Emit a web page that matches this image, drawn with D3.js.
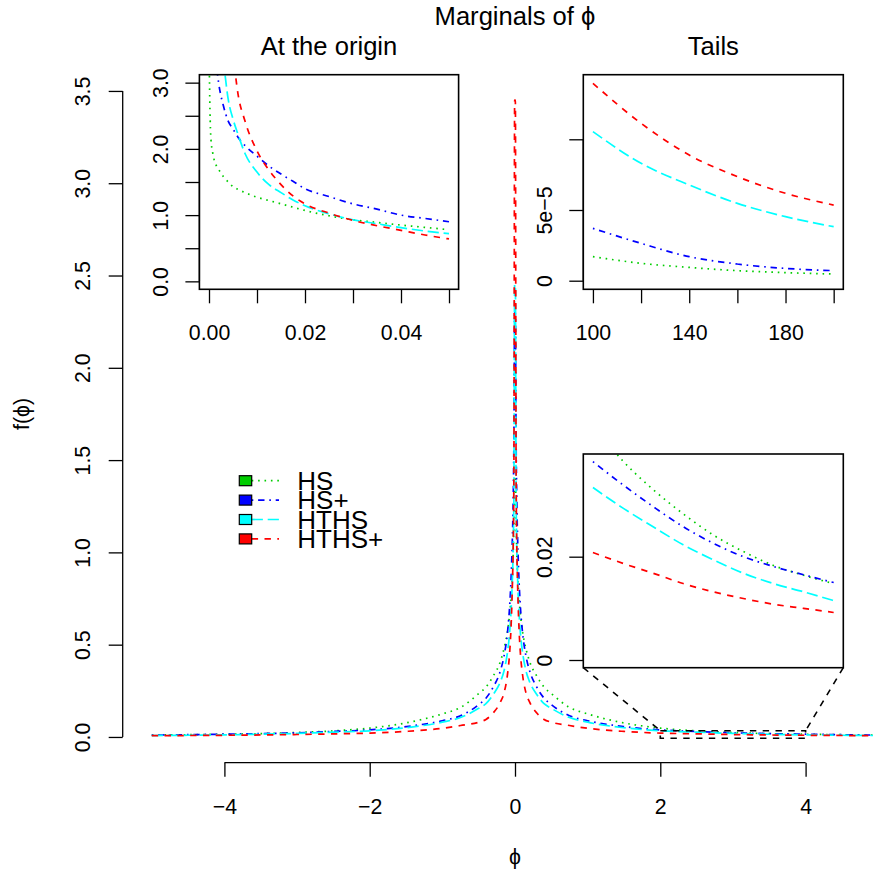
<!DOCTYPE html>
<html><head><meta charset="utf-8">
<script src="https://cdn.jsdelivr.net/npm/d3@7"></script>
<style>
body{margin:0;background:#fff}
text{font-family:"Liberation Sans",Arial,Helvetica,sans-serif;fill:#000}
</style></head>
<body><svg id="c" width="873" height="872"></svg>
<script>
// ---------- data ----------
const seriesNames = ["HS", "HS+", "HTHS", "HTHS+"];
const seriesColors = ["#00CD00", "#0000FF", "#00FFFF", "#FF0000"];

// main plot: phi grid and densities
const mainPhi = [-5,-4.5,-4,-3.5,-3,-2.5,-2,-1.5,-1,-0.75,-0.5,-0.4,-0.3,-0.2,-0.15,-0.1,-0.075,-0.05,-0.035,-0.025,-0.015,-0.005,
                 0.005,0.015,0.025,0.035,0.05,0.075,0.1,0.15,0.2,0.3,0.4,0.5,0.75,1,1.5,2,2.5,3,3.5,4,4.5,5];
const mainHS    = [0.0102,0.0122,0.0148,0.0181,0.024,0.033,0.048,0.076,0.125,0.16,0.235,0.27,0.33,0.41,0.48,0.58,0.66,0.78,0.89,0.99,1.17,1.43,
                   1.43,1.17,0.99,0.89,0.78,0.66,0.58,0.48,0.41,0.33,0.27,0.235,0.16,0.125,0.076,0.048,0.033,0.024,0.0181,0.0148,0.0122,0.0102];
const mainHSp   = [0.0100,0.0123,0.0150,0.0181,0.0226,0.0297,0.0384,0.056,0.088,0.115,0.175,0.21,0.27,0.36,0.44,0.58,0.70,0.90,1.09,1.28,1.62,2.30,
                   2.30,1.62,1.28,1.09,0.90,0.70,0.58,0.44,0.36,0.27,0.21,0.175,0.115,0.088,0.056,0.0384,0.0297,0.0226,0.0181,0.0150,0.0123,0.0100];
const mainHTHS  = [0.0077,0.0093,0.0115,0.0148,0.0194,0.0258,0.0334,0.050,0.080,0.105,0.155,0.18,0.23,0.30,0.36,0.47,0.56,0.72,0.87,1.02,1.34,2.45,
                   2.45,1.34,1.02,0.87,0.72,0.56,0.47,0.36,0.30,0.23,0.18,0.155,0.105,0.080,0.050,0.0334,0.0258,0.0194,0.0148,0.0115,0.0093,0.0077];
const mainHTHSp = [0.0068,0.0079,0.0092,0.0108,0.0132,0.0168,0.0208,0.030,0.047,0.062,0.08,0.095,0.13,0.19,0.24,0.35,0.45,0.64,0.84,1.03,1.46,3.45,
                   3.45,1.46,1.03,0.84,0.64,0.45,0.35,0.24,0.19,0.13,0.095,0.08,0.062,0.047,0.030,0.0208,0.0168,0.0132,0.0108,0.0092,0.0079,0.0068];
const mainYTicks = [0,0.5,1,1.5,2,2.5,3,3.5];
const mainXTicks = [-4,-2,0,2,4];

// inset "At the origin"
const originPhi = [0.00005,0.0002,0.0004,0.0008,0.0015,0.002,0.003,0.004,0.005,0.006,0.0075,0.01,0.0125,0.015,0.0175,0.02,0.025,0.03,0.035,0.04,0.045,0.05];
const originHS    = [3.3,2.59,2.15,1.93,1.75,1.69,1.58,1.50,1.43,1.39,1.34,1.27,1.22,1.17,1.12,1.07,0.99,0.93,0.89,0.85,0.815,0.78];
const originHSp   = [null,null,null,null,3.3,3.0,2.65,2.42,2.30,2.18,2.05,1.89,1.74,1.62,1.51,1.40,1.28,1.17,1.09,1.00,0.95,0.90];
const originHTHS  = [null,null,null,null,null,null,3.35,2.75,2.45,2.23,1.93,1.65,1.46,1.34,1.23,1.14,1.02,0.93,0.87,0.81,0.76,0.72];
const originHTHSp = [null,null,null,null,null,null,null,null,3.45,2.85,2.42,1.97,1.68,1.46,1.29,1.17,1.03,0.92,0.84,0.77,0.70,0.64];
const originXTicks = [0,0.01,0.02,0.03,0.04,0.05];
const originXLabels = ["0.00","","0.02","","0.04",""];
const originYTicks = [0,0.5,1,1.5,2,2.5,3];
const originYLabels = ["0.0","","1.0","","2.0","","3.0"];

// inset "Tails"
const tailPhi = [100,120,140,160,180,200];
const tailHS    = [1.70e-5,1.23e-5,9.4e-6,7.1e-6,5.7e-6,4.7e-6];
const tailHSp   = [3.70e-5,2.64e-5,1.70e-5,1.18e-5,8.7e-6,7.1e-6];
const tailHTHS  = [1.054e-4,8.3e-5,6.77e-5,5.47e-5,4.53e-5,3.82e-5];
const tailHTHSp = [1.396e-4,1.113e-4,8.89e-5,7.36e-5,6.18e-5,5.35e-5];
const tailXTicks = [100,120,140,160,180,200];
const tailXLabels = ["100","","140","","180",""];
const tailYTicks = [0,5e-5,1e-4];
const tailYLabels = ["0","5e\u22125",""];

// inset zoom on [2,4]
const zoomPhi = [2,2.25,2.5,2.75,3,3.25,3.5,3.75,4];
const zoomHS    = [0.0455,0.0385,0.0330,0.0283,0.0242,0.0210,0.0183,0.0164,0.0148];
const zoomHSp   = [0.0384,0.0339,0.0297,0.0258,0.0226,0.0200,0.0181,0.0165,0.0150];
const zoomHTHS  = [0.0334,0.0294,0.0258,0.0223,0.0194,0.0168,0.0148,0.0132,0.0115];
const zoomHTHSp = [0.0208,0.0187,0.0168,0.0148,0.0132,0.0119,0.0108,0.0100,0.0092];
const zoomYTicks = [0,0.02];
const zoomYLabels = ["0","0.02"];
const zoomRectX = [2,4];
const zoomRectY = [-0.007,0.034];

// ---------- styles / layout ----------
const dashArr = ["1.6,4.8", "1.6,4.8,6.4,4.8", "11.2,4.8", "6.4,6.4"];
const LW = 1.7;
const FS = 21.3;

const svg = d3.select("#c");
const W = 873, H = 872;

// main scales
const x = d3.scaleLinear().domain([-5.4,5.4]).range([122.7,907.3]);
const y = d3.scaleLinear().domain([-0.14,3.64]).range([762.8,65.1]);

function drawLines(g, xs, ys, xsc, ysc, clipId) {
  ys.forEach((vals, i) => {
    const pts = xs.map((d, j) => [d, vals[j]]);
    const line = d3.line()
      .defined(p => p[1] !== null)
      .x(p => xsc(p[0])).y(p => ysc(p[1]))
      .curve(d3.curveMonotoneX);
    const p = g.append("path").datum(pts)
      .attr("d", line)
      .attr("fill", "none")
      .attr("stroke", seriesColors[i])
      .attr("stroke-width", LW)
      .attr("stroke-dasharray", dashArr[i]);
    if (clipId) p.attr("clip-path", `url(#${clipId})`);
  });
}

// main curves
const gMain = svg.append("g");
drawLines(gMain, mainPhi, [mainHS, mainHSp, mainHTHS, mainHTHSp], x, y, null);

// main y axis
function leftAxis(g, ysc, xpos, ticks, labels, tickLen, labOff) {
  const ax = d3.axisLeft(ysc).tickValues(ticks).tickSize(tickLen).tickFormat((d, i) => labels[i]);
  const ga = g.append("g").attr("transform", `translate(${xpos},0)`).call(ax);
  ga.select(".domain").remove();
  ga.selectAll(".tick line").attr("stroke", "#000").attr("stroke-width", 1.3);
  ga.selectAll(".tick text")
    .attr("transform", "rotate(-90)")
    .attr("x", 0).attr("y", -labOff).attr("dy", 0)
    .attr("text-anchor", "middle")
    .style("font-size", FS + "px")
    .style("font-family", '"Liberation Sans",Arial,sans-serif');
  g.append("line")
    .attr("x1", xpos).attr("x2", xpos)
    .attr("y1", ysc(ticks[0])).attr("y2", ysc(ticks[ticks.length - 1]))
    .attr("stroke", "#000").attr("stroke-width", 1.3);
}
function bottomAxis(g, xsc, ypos, ticks, labels, tickLen, labOff, drawLine) {
  const ax = d3.axisBottom(xsc).tickValues(ticks).tickSize(tickLen).tickFormat((d, i) => labels[i]);
  const ga = g.append("g").attr("transform", `translate(0,${ypos})`).call(ax);
  ga.select(".domain").remove();
  ga.selectAll(".tick line").attr("stroke", "#000").attr("stroke-width", 1.3);
  ga.selectAll(".tick text")
    .attr("y", labOff).attr("dy", 0)
    .attr("text-anchor", "middle")
    .style("font-size", FS + "px")
    .style("font-family", '"Liberation Sans",Arial,sans-serif');
  if (drawLine) {
    g.append("line")
      .attr("y1", ypos).attr("y2", ypos)
      .attr("x1", xsc(ticks[0])).attr("x2", xsc(ticks[ticks.length - 1]))
      .attr("stroke", "#000").attr("stroke-width", 1.3);
  }
}

leftAxis(svg, y, 122.7, mainYTicks, mainYTicks.map(d3.format(".1f")), 14, 32.7);
bottomAxis(svg, x, 762.7, mainXTicks, mainXTicks.map(d => d < 0 ? "\u2212" + Math.abs(d) : String(d)), 14, 51.5, true);

// titles / labels
svg.append("text").attr("x", 515).attr("y", 25).attr("text-anchor", "middle")
  .style("font-size", "25.6px").text("Marginals of \u03D5");
svg.append("text").attr("transform", "translate(29,414) rotate(-90)").attr("text-anchor", "middle")
  .style("font-size", FS + "px").text("f(\u03D5)");
svg.append("text").attr("x", 515).attr("y", 864).attr("text-anchor", "middle")
  .style("font-size", FS + "px").text("\u03D5");

// zoom rectangle + connectors on main plot
const dashK = "6.4,6.4";
svg.append("rect")
  .attr("x", x(zoomRectX[0])).attr("y", y(zoomRectY[1]))
  .attr("width", x(zoomRectX[1]) - x(zoomRectX[0]))
  .attr("height", y(zoomRectY[0]) - y(zoomRectY[1]))
  .attr("fill", "none").attr("stroke", "#000").attr("stroke-width", 1.6).attr("stroke-dasharray", dashK);

// insets
const defs = svg.append("defs");
function inset(id, box, xdom, ydom) {
  const xs = d3.scaleLinear().domain(xdom).range([box.l, box.r]);
  const ys = d3.scaleLinear().domain(ydom).range([box.b, box.t]);
  defs.append("clipPath").attr("id", id).append("rect")
    .attr("x", box.l).attr("y", box.t).attr("width", box.r - box.l).attr("height", box.b - box.t);
  const g = svg.append("g");
  g.append("rect").attr("x", box.l).attr("y", box.t).attr("width", box.r - box.l).attr("height", box.b - box.t)
    .attr("fill", "#fff");
  return {g, xs, ys};
}
function frame(g, box) {
  g.append("rect").attr("x", box.l).attr("y", box.t).attr("width", box.r - box.l).attr("height", box.b - box.t)
    .attr("fill", "none").attr("stroke", "#000").attr("stroke-width", 1.6);
}

// inset 1: origin
const b1 = {l: 199.4, r: 458.6, t: 74.7, b: 289.3};
const I1 = inset("clip1", b1, [-0.002, 0.052], [-0.12, 3.12]);
drawLines(I1.g, originPhi, [originHS, originHSp, originHTHS, originHTHSp], I1.xs, I1.ys, "clip1");
frame(I1.g, b1);
leftAxis(I1.g, I1.ys, b1.l, originYTicks, originYLabels, 14, 31);
bottomAxis(I1.g, I1.xs, b1.b, originXTicks, originXLabels, 14, 51, false);
I1.g.append("text").attr("x", (b1.l + b1.r) / 2).attr("y", 55).attr("text-anchor", "middle")
  .style("font-size", "25.6px").text("At the origin");

// inset 2: tails
const b2 = {l: 583.3, r: 843.3, t: 74.7, b: 289.3};
const I2 = inset("clip2", b2, [96, 204], [-6.08e-6, 1.4568e-4]);
drawLines(I2.g, tailPhi, [tailHS, tailHSp, tailHTHS, tailHTHSp], I2.xs, I2.ys, "clip2");
frame(I2.g, b2);
leftAxis(I2.g, I2.ys, b2.l, tailYTicks, tailYLabels, 14, 31);
bottomAxis(I2.g, I2.xs, b2.b, tailXTicks, tailXLabels, 14, 51, false);
I2.g.append("text").attr("x", (b2.l + b2.r) / 2).attr("y", 55).attr("text-anchor", "middle")
  .style("font-size", "25.6px").text("Tails");

// inset 3: zoom on [2,4]
const b3 = {l: 583.3, r: 843.3, t: 454, b: 667.7};
const I3 = inset("clip3", b3, [1.92, 4.08], [-0.00149, 0.03988]);
drawLines(I3.g, zoomPhi, [zoomHS, zoomHSp, zoomHTHS, zoomHTHSp], I3.xs, I3.ys, "clip3");
frame(I3.g, b3);
leftAxis(I3.g, I3.ys, b3.l, zoomYTicks, zoomYLabels, 14, 31);

// connectors
[[b3.l, zoomRectX[0]], [b3.r, zoomRectX[1]]].forEach(([bx, dx]) => {
  svg.append("line").attr("x1", bx).attr("y1", b3.b).attr("x2", x(dx)).attr("y2", y(zoomRectY[1]))
    .attr("stroke", "#000").attr("stroke-width", 1.6).attr("stroke-dasharray", dashK);
});

// legend
const lg = svg.append("g");
seriesNames.forEach((name, i) => {
  const cy = 480.7 + i * 19.4;
  lg.append("line").attr("x1", 251.7).attr("x2", 279).attr("y1", cy).attr("y2", cy)
    .attr("stroke", seriesColors[i]).attr("stroke-width", LW).attr("stroke-dasharray", dashArr[i]);
  lg.append("rect").attr("x", 239.3).attr("y", cy - 5).attr("width", 12.4).attr("height", 10)
    .attr("fill", seriesColors[i]).attr("stroke", "#000").attr("stroke-width", 1.2);
  lg.append("text").attr("x", 297.3).attr("y", cy + 9.3).style("font-size", "26px").text(name);
});
</script></body></html>
